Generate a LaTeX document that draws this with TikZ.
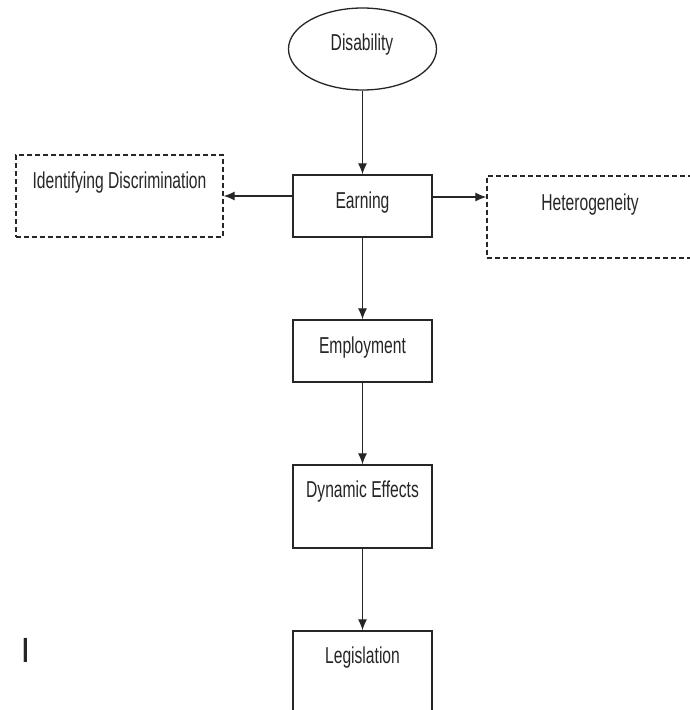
\documentclass[tikz,border=0pt]{standalone}
\usepackage{fontspec}
\setmainfont[FakeStretch=0.68]{Liberation Sans}
\newfontfamily\barfont{Liberation Sans}
\usetikzlibrary{arrows.meta,shapes.geometric}
\begin{document}
\begin{tikzpicture}[x=1pt,y=-1pt,
  box/.style={draw=black!85, line width=1.3pt, minimum width=139pt, inner sep=0pt},
  dbox/.style={draw=black!85, line width=1.3pt, dash pattern=on 5pt off 3pt, inner sep=0pt},
  lbl/.style={anchor=base, inner sep=0pt, font=\fontsize{23}{23}\selectfont, text=black!85},
  arr/.style={-{Latex[length=11pt,width=9pt]}, line width=1.2pt, draw=black!85}]
\clip (0,0) rectangle (690,710);
\fill[white] (0,0) rectangle (690,710);
\node[ellipse, draw=black!85, line width=1.3pt, minimum width=148pt, minimum height=82pt, inner sep=0pt] (dis) at (362.5,49) {};
\node[lbl] (disl) at (362,50) {Disability};
\node[box, minimum height=62pt] (earn) at (362.5,206) {};
\node[lbl] (earnl) at (362.5,208) {Earning};
\node[box, minimum height=62pt] (emp) at (362.5,351) {};
\node[lbl] (empl) at (362.5,353) {Employment};
\node[box, minimum height=83pt] (dyn) at (362.5,506.5) {};
\node[lbl] (dynl) at (362.5,497) {Dynamic Effects};
\node[box, minimum height=100pt] (leg) at (362.5,681) {};
\node[lbl] (legl) at (362.5,663) {Legislation};
\node[dbox, minimum width=207pt, minimum height=82pt] (idd) at (119.5,196) {};
\node[lbl] (iddl) at (119.5,188) {Identifying Discrimination};
\node[dbox, minimum width=206pt, minimum height=82pt] (het) at (590,217) {};
\node[lbl] (hetl) at (590,210) {Heterogeneity};
\node[anchor=base, inner sep=0pt, text=black!85, font=\barfont\fontsize{35}{35}\selectfont] (bar) at (25.5,662) {I};
\draw[arr] (dis.south) -- (earn.north);
\draw[arr] (earn.west |- idd.east) -- (idd.east);
\draw[arr] ([yshift=9pt]earn.east) -- ([yshift=9pt]earn.east -| het.west);
\draw[arr] (earn.south) -- (emp.north);
\draw[arr] (emp.south) -- (dyn.north);
\draw[arr] (dyn.south) -- (leg.north);
\end{tikzpicture}
\end{document}
